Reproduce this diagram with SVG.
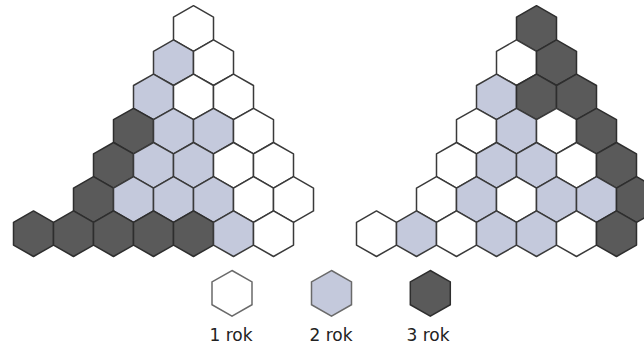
<svg xmlns="http://www.w3.org/2000/svg" xmlns:xlink="http://www.w3.org/1999/xlink" width="644" height="345" viewBox="0 0 644 345">
<style>
.w{fill:#ffffff;stroke:#3a3a3a;stroke-width:1.5;stroke-linejoin:round}
.b{fill:#c4c9dc;stroke:#3a3a3a;stroke-width:1.5;stroke-linejoin:round}
.d{fill:#5a5a5a;stroke:#2e2e2e;stroke-width:1.5;stroke-linejoin:round}
.lw{fill:#ffffff;stroke:#6a6a6a;stroke-width:1.5}
.lb{fill:#c4c9dc;stroke:#6a6a6a;stroke-width:1.5}
.ld{fill:#5a5a5a;stroke:#2e2e2e;stroke-width:1.5}
.t{font-family:"DejaVu Sans",sans-serif;font-size:17px;fill:#222;text-anchor:middle}
</style>
<defs>
<polygon id="hx" points="0,-22.8 20,-11.4 20,11.4 0,22.8 -20,11.4 -20,-11.4"/>
</defs>
<rect width="644" height="345" fill="#ffffff"/>
<g id="left-triangle">
<use href="#hx" class="w" x="193.5" y="28.5"/>
<use href="#hx" class="b" x="173.5" y="62.7"/>
<use href="#hx" class="w" x="213.5" y="62.7"/>
<use href="#hx" class="b" x="153.5" y="96.9"/>
<use href="#hx" class="w" x="193.5" y="96.9"/>
<use href="#hx" class="w" x="233.5" y="96.9"/>
<use href="#hx" class="d" x="133.5" y="131.1"/>
<use href="#hx" class="b" x="173.5" y="131.1"/>
<use href="#hx" class="b" x="213.5" y="131.1"/>
<use href="#hx" class="w" x="253.5" y="131.1"/>
<use href="#hx" class="d" x="113.5" y="165.3"/>
<use href="#hx" class="b" x="153.5" y="165.3"/>
<use href="#hx" class="b" x="193.5" y="165.3"/>
<use href="#hx" class="w" x="233.5" y="165.3"/>
<use href="#hx" class="w" x="273.5" y="165.3"/>
<use href="#hx" class="d" x="93.5" y="199.5"/>
<use href="#hx" class="b" x="133.5" y="199.5"/>
<use href="#hx" class="b" x="173.5" y="199.5"/>
<use href="#hx" class="b" x="213.5" y="199.5"/>
<use href="#hx" class="w" x="253.5" y="199.5"/>
<use href="#hx" class="w" x="293.5" y="199.5"/>
<use href="#hx" class="d" x="33.5" y="233.7"/>
<use href="#hx" class="d" x="73.5" y="233.7"/>
<use href="#hx" class="d" x="113.5" y="233.7"/>
<use href="#hx" class="d" x="153.5" y="233.7"/>
<use href="#hx" class="d" x="193.5" y="233.7"/>
<use href="#hx" class="b" x="233.5" y="233.7"/>
<use href="#hx" class="w" x="273.5" y="233.7"/>
</g>
<g id="right-triangle">
<use href="#hx" class="d" x="536.5" y="28.5"/>
<use href="#hx" class="w" x="516.5" y="62.7"/>
<use href="#hx" class="d" x="556.5" y="62.7"/>
<use href="#hx" class="b" x="496.5" y="96.9"/>
<use href="#hx" class="d" x="536.5" y="96.9"/>
<use href="#hx" class="d" x="576.5" y="96.9"/>
<use href="#hx" class="w" x="476.5" y="131.1"/>
<use href="#hx" class="b" x="516.5" y="131.1"/>
<use href="#hx" class="w" x="556.5" y="131.1"/>
<use href="#hx" class="d" x="596.5" y="131.1"/>
<use href="#hx" class="w" x="456.5" y="165.3"/>
<use href="#hx" class="b" x="496.5" y="165.3"/>
<use href="#hx" class="b" x="536.5" y="165.3"/>
<use href="#hx" class="w" x="576.5" y="165.3"/>
<use href="#hx" class="d" x="616.5" y="165.3"/>
<use href="#hx" class="w" x="436.5" y="199.5"/>
<use href="#hx" class="b" x="476.5" y="199.5"/>
<use href="#hx" class="w" x="516.5" y="199.5"/>
<use href="#hx" class="b" x="556.5" y="199.5"/>
<use href="#hx" class="b" x="596.5" y="199.5"/>
<use href="#hx" class="d" x="636.5" y="199.5"/>
<use href="#hx" class="w" x="376.5" y="233.7"/>
<use href="#hx" class="b" x="416.5" y="233.7"/>
<use href="#hx" class="w" x="456.5" y="233.7"/>
<use href="#hx" class="b" x="496.5" y="233.7"/>
<use href="#hx" class="b" x="536.5" y="233.7"/>
<use href="#hx" class="w" x="576.5" y="233.7"/>
<use href="#hx" class="d" x="616.5" y="233.7"/>
</g>
<g id="legend-1">
<use href="#hx" class="lw" x="232" y="293.3"/>
<text class="t" x="231" y="341">1 rok</text>
</g>
<g id="legend-2">
<use href="#hx" class="lb" x="331.5" y="293.3"/>
<text class="t" x="331" y="341">2 rok</text>
</g>
<g id="legend-3">
<use href="#hx" class="ld" x="430.3" y="293.3"/>
<text class="t" x="428" y="341">3 rok</text>
</g>
</svg>
